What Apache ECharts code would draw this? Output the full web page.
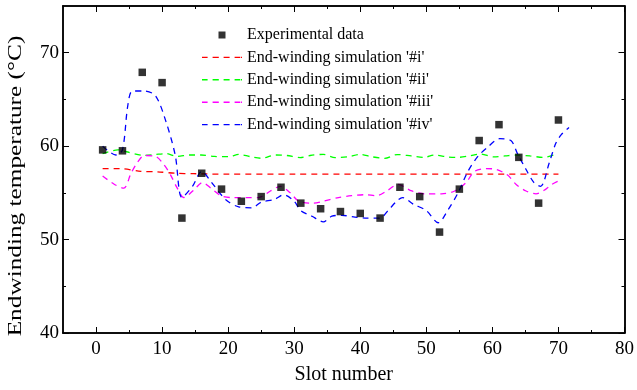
<!DOCTYPE html>
<html><head><meta charset="utf-8">
<script src="https://cdn.jsdelivr.net/npm/echarts@6/dist/echarts.min.js"></script>
<style>html,body{margin:0;padding:0;background:#fff}#c{width:637px;height:390px}</style>
</head><body><div id="c"></div>
<script>
// Experimental data (every third slot)
const expSlots = [1,4,7,10,13,16,19,22,25,28,31,34,37,40,43,46,49,52,55,58,61,64,67,70];
const experimental = [59.6,59.5,67.9,66.8,52.3,57.1,55.4,54.1,54.6,55.6,53.9,53.3,53.0,52.8,52.3,55.6,54.6,50.8,55.4,60.6,62.3,58.8,53.9,62.8];

// Simulation curves
const simISlots = [1,3.5,6.8,9.3,12,14.8,20,30,40,50,60,70];
const simI      = [57.6,57.6,57.3,57.25,57.1,57.05,57.0,57.0,57.0,57.0,57.0,57.0];

const simIISlots = [1,3.3,4.6,7.3,8.9,10.6,12.3,14.1,15.9,17.9,20.1,21.6,23.4,25.1,27.1,28.9,30.9,32.4,34.4,36.2,38.2,40,41.7,43.7,45.6,47.7,49.7,51.2,53.2,54.7,56.5,58.2,60.2,61.9,63.7,65.7,67.7,69.7];
const simII      = [59.2,59.6,59.4,59.0,59.1,59.2,58.9,59.05,59.05,58.9,58.87,59.12,58.87,58.7,59.05,59.0,58.77,59.0,59.12,58.77,58.87,59.12,58.87,58.7,59.1,58.95,58.8,59.05,58.85,58.8,58.95,59.15,58.85,58.95,59.05,58.95,58.8,59.15];

const simIIISlots = [1,2.8,4.2,5.3,6.3,7.3,9,10.3,11.3,12.3,13.3,14.8,16.1,17.4,18.9,20.5,22.6,24.6,26.4,27.9,29.4,30.7,32.9,34.4,36.7,38.7,40.7,42.5,44,45.7,47.8,49.8,52.3,54.3,56,57.3,59,60.6,62.3,63.6,65.1,66.6,68.1,69,70.1];
const simIII      = [56.8,55.9,55.5,57.1,58.3,59.0,58.9,58.0,56.9,55.5,54.5,55.3,56.1,55.5,54.7,54.5,54.5,54.5,55.2,55.7,55.0,54.1,53.9,54.1,54.5,54.7,54.8,54.7,55.2,55.9,55.2,54.9,54.9,55.2,56.1,57.3,57.6,57.5,56.9,55.9,55.2,54.9,55.4,55.9,56.3];

const simIVSlots = [1,3,4,4.8,5.5,7.3,9,10.6,12,13,14.6,16,17.4,19.6,21.6,23.6,25,27,28.4,30,31,32.7,34.4,35.7,37.2,39.2,41,43,44.2,45.5,46.4,48,50,51.8,53.3,54.8,56.3,57.8,59.3,61.1,62.8,63.8,65.1,66.3,67.3,68.6,69.6,70.4,71.6];
const simIV      = [60.0,59.05,59.6,64.3,65.9,65.9,65.4,62.6,59.0,54.5,55.7,57.3,56.2,54.3,53.5,53.4,54.0,54.3,54.8,54.1,53.1,52.5,51.9,52.5,52.6,52.4,52.3,52.3,53.1,54.1,54.5,53.8,53.1,51.8,53.2,55.0,57.3,58.9,59.9,60.8,60.6,59.2,57.5,56.1,55.7,58.2,60.3,61.2,62.0];

// Axis ticks / labels
const xMajor = [0,10,20,30,40,50,60,70,80];
const xMinor = [5,15,25,35,45,55,65,75];
const yMajor = [40,50,60,70];
const yMinor = [45,55,65];
const names = ["Experimental data","End-winding simulation '#i'","End-winding simulation '#ii'","End-winding simulation '#iii'","End-winding simulation '#iv'"];
const xTitle = 'Slot number';
const yTitle = 'Endwinding temperature (\u00B0C)';

const FONT = 'Liberation Serif';
const pair = (xs, ys) => xs.map((x, i) => [x, ys[i]]);
const X0 = -5, X1 = 80, Y0 = 40, Y1 = 75;

function xAx(pos, ticks, len, labels, extra) {
  return Object.assign({
    type: 'value', min: X0, max: X1, position: pos,
    axisLine: { show: true, onZero: false, lineStyle: { color: '#000', width: 1.5 } },
    axisTick: { show: true, inside: true, length: len, customValues: ticks, lineStyle: { color: '#000', width: 1 } },
    axisLabel: labels ? { show: true, customValues: xMajor, color: '#000', fontFamily: FONT, fontSize: 19, margin: 7 } : { show: false },
    splitLine: { show: false }
  }, extra || {});
}
function yAx(pos, ticks, len, labels, extra) {
  return Object.assign({
    type: 'value', min: Y0, max: Y1, position: pos,
    axisLine: { show: true, onZero: false, lineStyle: { color: '#000', width: 1.5 } },
    axisTick: { show: true, inside: true, length: len, customValues: ticks, lineStyle: { color: '#000', width: 1 } },
    axisLabel: labels ? { show: true, customValues: yMajor, color: '#000', fontFamily: FONT, fontSize: 19, margin: 4 } : { show: false },
    splitLine: { show: false }
  }, extra || {});
}

const dashIcon = 'path://M0,0h5.6v1.4h-5.6z M10.6,0h6.2v1.4h-6.2z M21.6,0h6v1.4h-6z M32.6,0h5.7v1.4h-5.7z M39,0h1v1.4h-1z';
const chart = echarts.init(document.getElementById('c'), null, { renderer: 'canvas' });
const dash = [6, 5];
chart.setOption({
  animation: false,
  backgroundColor: '#fff',
  grid: { left: 63, right: 10, top: 6, bottom: 53, containLabel: false },
  xAxis: [
    xAx('bottom', xMajor, 6, true, { name: xTitle, nameLocation: 'middle', nameGap: 32, nameTextStyle: { color: '#000', fontFamily: FONT, fontSize: 20 } }),
    xAx('bottom', xMinor, 3, false),
    xAx('top', xMajor, 6, false),
    xAx('top', xMinor, 3, false)
  ],
  yAxis: [
    yAx('left', yMajor, 6, true),
    yAx('left', yMinor, 3, false),
    yAx('right', yMajor, 6, false),
    yAx('right', yMinor, 3, false)
  ],
  graphic: [{
    type: 'text', x: 16, y: 186, rotation: Math.PI / 2, scaleX: 1.33,
    style: { text: yTitle, fill: '#000', font: '19px "Liberation Serif"', align: 'center', verticalAlign: 'middle' }
  }],
  legend: {
    orient: 'vertical', left: 197, top: 22, itemWidth: 40, itemHeight: 7, itemGap: 6.4,
    itemStyle: { borderWidth: 0 },
    textStyle: { color: '#000', fontFamily: FONT, fontSize: 16 },
    data: [
      { name: names[0], icon: 'path://M0,0L10,0L10,10L0,10Z' },
      { name: names[1], icon: dashIcon },
      { name: names[2], icon: dashIcon },
      { name: names[3], icon: dashIcon },
      { name: names[4], icon: dashIcon }
    ]
  },
  series: [
    { name: names[1], type: 'line', data: pair(simISlots, simI), showSymbol: false, symbol: 'none', smooth: 0.3, lineStyle: { color: '#ff0000', width: 1.3, type: dash }, itemStyle: { color: '#ff0000' } },
    { name: names[2], type: 'line', data: pair(simIISlots, simII), showSymbol: false, symbol: 'none', smooth: 0.3, lineStyle: { color: '#00ff00', width: 1.3, type: dash }, itemStyle: { color: '#00ff00' } },
    { name: names[3], type: 'line', data: pair(simIIISlots, simIII), showSymbol: false, symbol: 'none', smooth: 0.3, lineStyle: { color: '#ff00ff', width: 1.3, type: dash }, itemStyle: { color: '#ff00ff' } },
    { name: names[4], type: 'line', data: pair(simIVSlots, simIV), showSymbol: false, symbol: 'none', smooth: 0.3, lineStyle: { color: '#0000ff', width: 1.3, type: dash }, itemStyle: { color: '#0000ff' } },
    { name: names[0], type: 'scatter', data: pair(expSlots, experimental), symbol: 'rect', symbolSize: 7.5, itemStyle: { color: '#000' }, z: 5 }
  ]
});
</script></body></html>
